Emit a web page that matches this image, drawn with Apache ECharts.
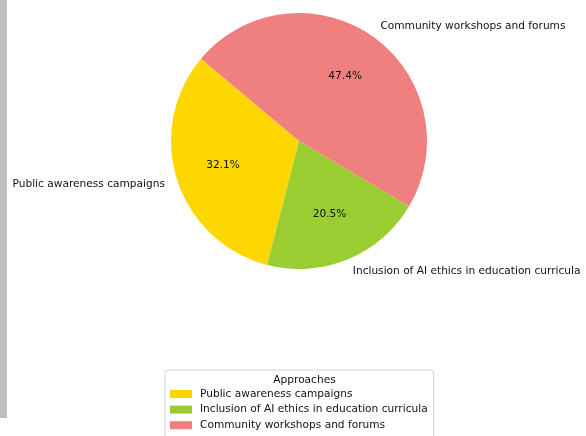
<!DOCTYPE html>
<html>
<head>
<meta charset="utf-8">
<script src="https://cdn.jsdelivr.net/npm/echarts@6/dist/echarts.min.js"></script>
<style>
  html, body { margin: 0; padding: 0; background: #fff; }
  #chart { width: 586px; height: 436px; }
</style>
</head>
<body>
<div id="chart"></div>
<script>
// Share of each approach (percent)
const categories = [
  'Public awareness campaigns',
  'Inclusion of AI ethics in education curricula',
  'Community workshops and forums'
];
const shares = [32.1, 20.5, 47.4];
const colors = ['#FFD700', '#9ACD32', '#F08080'];
const legendTitle = 'Approaches';

const FONT = 'DejaVu Sans';
const FS = 10.6;
const TEXT = '#111';
const R = 128;           // pie radius
const CENTER = [299, 141];

const chart = echarts.init(document.getElementById('chart'), null, { renderer: 'canvas' });

const pieData = categories.map((name, i) => ({
  name,
  value: shares[i],
  itemStyle: { color: colors[i] }
}));

chart.setOption({
  animation: false,
  backgroundColor: '#ffffff',
  title: {
    text: legendTitle,
    left: 299.5,
    textAlign: 'center',
    top: 370,
    textStyle: { fontFamily: FONT, fontSize: FS, fontWeight: 'normal', color: TEXT }
  },
  legend: {
    orient: 'vertical',
    left: 165,
    top: 370,
    height: 300,
    padding: [18, 6, 8, 5],
    data: categories,
    itemWidth: 22,
    itemHeight: 8,
    itemGap: 3.6,
    icon: 'rect',
    borderColor: '#d6d6d6',
    borderWidth: 1,
    borderRadius: 3,
    backgroundColor: '#fff',
    selectedMode: false,
    textStyle: { fontFamily: FONT, fontSize: FS, color: TEXT, padding: [0, 0, 0, 3], lineHeight: 12 }
  },
  graphic: [{
    type: 'rect',
    left: 0,
    top: 0,
    shape: { width: 7, height: 418 },
    style: { fill: '#c0c0c0' },
    silent: true
  }],
  series: [
    {
      // visible slices with outer category labels
      type: 'pie',
      center: CENTER,
      radius: [0, R],
      startAngle: 140,
      clockwise: false,
      avoidLabelOverlap: false,
      silent: true,
      data: pieData,
      itemStyle: { borderWidth: 0 },
      label: {
        show: true,
        position: 'outside',
        formatter: '{b}',
        fontFamily: FONT,
        fontSize: FS,
        color: TEXT,
        distanceToLabelLine: 0
      },
      labelLine: { show: false, length: R * 0.1, length2: 0 },
      emphasis: { disabled: true }
    },
    {
      // transparent ring used only to place the percentage labels at 0.6 R
      type: 'pie',
      center: CENTER,
      radius: [0, R * 1.2],
      startAngle: 140,
      clockwise: false,
      avoidLabelOverlap: false,
      silent: true,
      data: categories.map((name, i) => ({ name, value: shares[i] })),
      itemStyle: { color: 'rgba(0,0,0,0)', borderWidth: 0 },
      label: {
        show: true,
        position: 'inside',
        formatter: p => p.value.toFixed(1) + '%',
        fontFamily: FONT,
        fontSize: FS,
        color: TEXT
      },
      labelLine: { show: false },
      emphasis: { disabled: true }
    }
  ]
});
</script>
</body>
</html>
